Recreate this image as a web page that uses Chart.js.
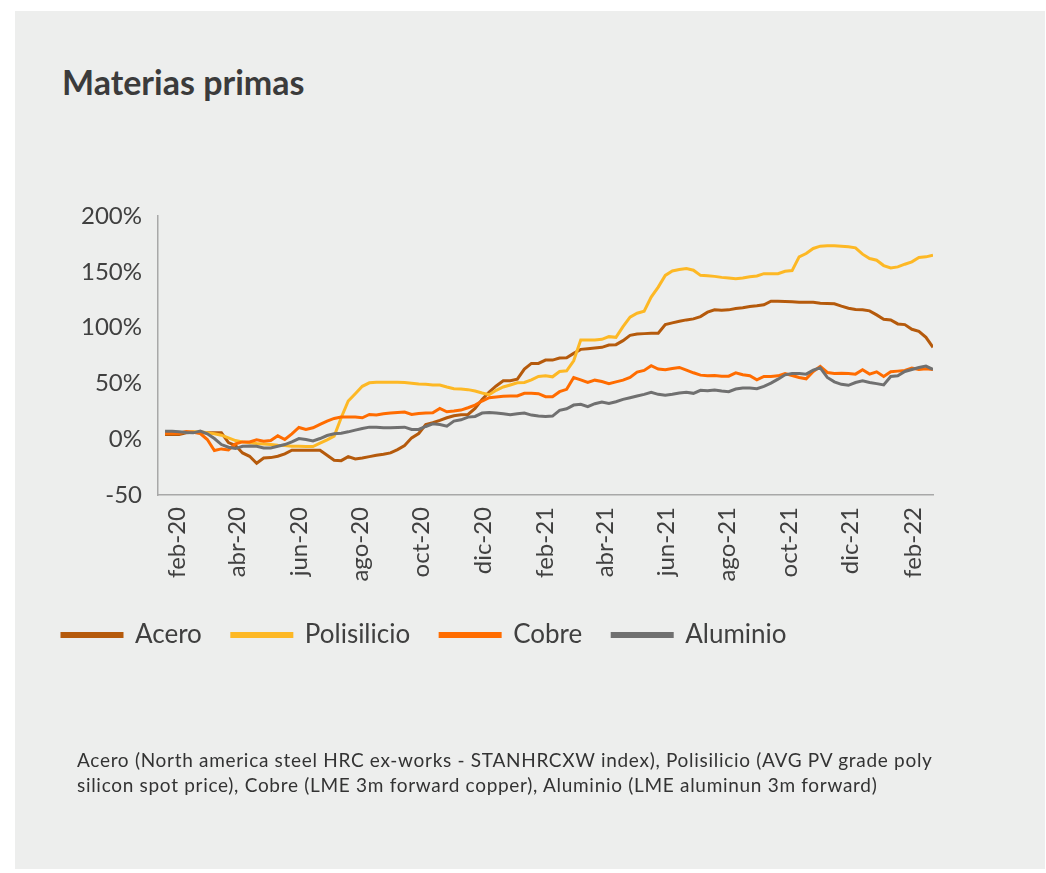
<!DOCTYPE html>
<html lang="es">
<head>
  <meta charset="UTF-8">
  <title>Materias primas</title>
  <script src="https://cdn.jsdelivr.net/npm/chart.js"></script>
  <style>
    html, body { margin: 0; padding: 0; background: #fff; }
    body { width: 1046px; height: 873px; position: relative; overflow: hidden; font-family: Lato, sans-serif; }
    #panel { position: absolute; left: 15px; top: 11px; width: 1030px; height: 858px; background: #edeeed; }
    #title { position: absolute; left: 47px; top: 54px; margin: 0; font-size: 34px; line-height: 1; font-weight: bold; color: #3b3b3b; }
    #box { position: absolute; left: 0; top: 0; width: 1030px; height: 858px; }
    #note { position: absolute; left: 62px; top: 736px; margin: 0; font-size: 19px; letter-spacing: 0.7px; line-height: 25px; color: #333; white-space: nowrap; }
  </style>
</head>
<body>
  <div id="panel">
    <h2 id="title">Materias primas</h2>
    <div id="box"><canvas id="myChart"></canvas></div>
    <p id="note">Acero (North america steel HRC ex-works - STANHRCXW index), Polisilicio (AVG PV grade poly<br>silicon spot price), Cobre (LME 3m forward copper), Aluminio (LME aluminun 3m forward)</p>
  </div>

  <script>
    // serie semanal desde el 20-ene-2020 (variación %)
    const startDate = '2020-01-20';

    const acero = [4.2,4.2,4.2,5.7,6.3,5.7,5.7,5.7,5.7,-3,-5.7,-12.3,-15.3,-21.6,-16.8,-16.5,-15.3,-13.2,-9.9,-9.9,
      -9.9,-9.9,-9.9,-14.4,-18.9,-19.2,-15.6,-17.7,-16.8,-15.6,-14.4,-13.5,-12.3,-9.3,-5.7,1.2,5.1,13.2,14.7,16.8,
      19.2,21.0,21.9,22.2,27.6,35.7,42.3,47.7,52.3,52.3,53.8,62.8,67.9,67.9,70.9,70.9,72.7,73.0,76.9,80.5,
      81.1,81.7,82.3,84.4,84.7,88.3,93.1,94.3,94.6,94.9,94.9,102.7,104.2,105.7,106.9,107.8,109.9,113.8,115.9,115.6,
      115.9,117.1,117.7,118.9,119.5,120.4,123.7,123.7,123.4,123.1,122.8,122.8,122.8,121.9,121.6,121.3,119.2,117.4,116.2,115.9,
      115.0,111.4,107.5,106.9,103.3,102.7,98.5,96.7,91.3,82.3];

    const polisilicio = [5.7,5.7,5.7,6.3,6.6,6.6,5.7,4.8,3.6,1.2,-1.2,-2.4,-3.3,-3.9,-4.2,-4.8,-5.4,-5.7,-6.3,-6.3,
      -6.6,-6.6,-3.6,-0.6,2.7,19.2,34.2,40.8,47.4,50.5,51.1,51.1,51.1,51.1,50.8,50.2,49.5,49.2,48.6,48.6,
      46.8,45.3,45.0,44.4,43.2,41.4,39.9,43.8,46.8,48.6,50.5,50.8,53.2,56.2,56.8,55.9,60.7,61.3,70.3,88.9,
      88.9,88.9,89.5,91.9,91.3,100.9,109.3,112.9,114.7,127.3,136.3,146.8,150.8,152.0,152.9,151.4,146.8,146.5,145.9,145.0,
      144.4,143.8,144.4,145.6,146.2,148.3,148.3,148.3,150.5,151.1,163.4,166.4,170.9,173.0,173.3,173.3,173.0,172.4,171.5,165.8,
      161.9,160.4,155.6,153.5,154.4,156.8,158.9,162.8,163.4,164.9];

    const cobre = [5.4,5.4,5.4,6.9,6.3,5.1,-0.3,-10.2,-8.7,-9.6,-4.2,-2.4,-2.4,-0.6,-1.8,-1.2,3.0,-0.3,4.8,10.5,
      8.7,10.2,13.2,16.2,18.6,19.8,19.8,19.8,19.2,22.2,21.6,22.8,23.4,24.0,24.3,22.2,23.1,23.4,23.7,27.6,
      24.6,25.2,26.1,28.2,30.6,34.2,37.2,37.8,38.4,38.7,38.7,41.1,41.1,40.8,38.1,38.1,42.6,44.7,55.3,53.2,
      50.8,52.9,51.7,49.8,51.4,52.9,55.3,60.1,61.6,65.8,62.8,62.2,63.4,64.3,61.9,59.5,57.4,56.8,57.1,56.5,
      56.5,59.5,57.7,56.8,53.2,56.2,56.2,56.8,58.9,57.1,55.3,54.1,60.7,65.2,59.8,58.9,59.2,58.9,58.3,62.2,
      58.3,60.4,56.2,60.4,61.0,61.6,63.7,62.5,63.1,62.5];

    const aluminio = [7.2,7.2,6.6,6.0,5.7,7.2,4.8,0.6,-4.8,-7.2,-8.4,-6.3,-6.0,-6.3,-7.8,-7.8,-6.3,-4.8,-2.4,0.6,
      -0.3,-1.5,0.6,3.3,4.8,5.4,6.6,8.1,9.6,10.8,10.8,10.2,10.2,10.5,10.8,8.7,8.7,11.4,13.8,13.2,
      11.7,16.2,17.4,19.8,20.4,23.4,24.0,23.4,22.8,21.9,22.8,23.4,21.6,20.7,20.4,20.7,25.8,27.3,30.6,31.2,
      29.1,31.8,33.3,32.1,33.6,35.7,37.2,38.7,40.2,42.0,40.2,39.3,40.2,41.4,42.0,41.1,43.8,43.5,44.1,43.2,
      42.6,45.0,45.9,45.9,45.3,47.4,50.2,53.8,57.7,58.9,58.9,58.3,61.9,64.0,55.3,51.4,49.2,48.3,50.8,52.3,
      50.8,49.8,48.6,56.2,56.8,60.7,62.5,64.3,65.5,62.5];

    const seriesNames = ['Acero', 'Polisilicio', 'Cobre', 'Aluminio'];
    const seriesColors = ['#b55a0c', '#fdb825', '#ff6c00', '#707070'];

    const xTickLabels = ['feb-20','abr-20','jun-20','ago-20','oct-20','dic-20','feb-21','abr-21','jun-21','ago-21','oct-21','dic-21','feb-22'];
    const xTickDates = ['2020-02-01','2020-04-01','2020-06-01','2020-08-01','2020-10-01','2020-12-01','2021-02-01','2021-04-01','2021-06-01','2021-08-01','2021-10-01','2021-12-01','2022-02-01'];

    const yTickValues = [-50, 0, 50, 100, 150, 200];
    const yTickLabels = ['-50', '0%', '50%', '100%', '150%', '200%'];

    const DAY = 86400000;
    const t0 = Date.parse(startDate);
    const dayOf = s => Math.round((Date.parse(s) - t0) / DAY);
    const xTickDays = xTickDates.map(dayOf);

    const toPoints = arr => arr.map((v, i) => ({ x: i * 7, y: v }));
    const allSeries = [acero, polisilicio, cobre, aluminio];

    const ctx = document.getElementById('myChart').getContext('2d');
    const txt = '#404040';

    const chart = new Chart(ctx, {
      type: 'line',
      data: {
        datasets: allSeries.map((arr, k) => ({
          label: seriesNames[k],
          data: toPoints(arr),
          borderColor: seriesColors[k],
          backgroundColor: seriesColors[k],
          borderWidth: 3,
          pointRadius: 0,
          tension: 0,
          order: 3 - k // el último (Aluminio) queda encima
        }))
      },
      options: {
        responsive: true,
        maintainAspectRatio: false,
        animation: false,
        layout: { padding: { left: 17, right: 112, top: 205, bottom: 211 } },
        plugins: {
          tooltip: { enabled: false },
          legend: {
            position: 'bottom',
            align: 'start',
            labels: {
              boxWidth: 60,
              boxHeight: 3,
              padding: 30,
              color: txt,
              font: { family: 'Lato', size: 26 },
              sort: (a, b) => a.datasetIndex - b.datasetIndex
            }
          }
        },
        scales: {
          x: {
            type: 'linear',
            min: -7,
            max: 763,
            grid: { display: false, drawTicks: false },
            border: { display: true, color: '#a8a8a8', width: 1.5 },
            afterBuildTicks: s => { s.ticks = xTickDays.map(v => ({ value: v })); },
            afterFit: s => { s.height = 97; },
            ticks: {
              autoSkip: false,
              minRotation: 90,
              maxRotation: 90,
              padding: 12,
              color: txt,
              font: { family: 'Lato', size: 24 },
              callback: (v, i) => xTickLabels[i]
            }
          },
          y: {
            min: -50,
            max: 200,
            grid: { display: false, drawTicks: false },
            border: { display: true, color: '#a8a8a8', width: 1.5 },
            afterBuildTicks: s => { s.ticks = yTickValues.map(v => ({ value: v })); },
            afterFit: s => { s.width = 126; },
            ticks: {
              padding: 16,
              color: txt,
              font: { family: 'Lato', size: 24 },
              callback: v => yTickLabels[yTickValues.indexOf(v)]
            }
          }
        }
      }
    });
  </script>
</body>
</html>
